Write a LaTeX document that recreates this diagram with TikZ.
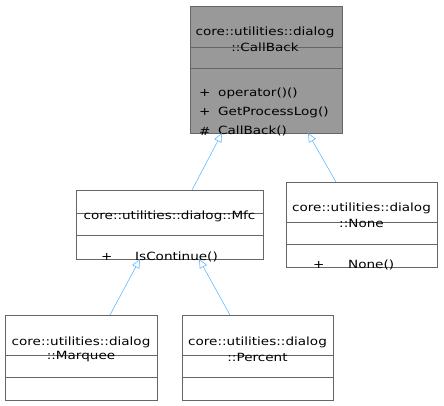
\documentclass[tikz,border=0pt]{standalone}
\usepackage{fontspec}
\setmainfont[FakeStretch=1.2]{DejaVu Sans}
\usetikzlibrary{arrows.meta}
\definecolor{edgeblue}{HTML}{63B8FF}
\definecolor{boxline}{HTML}{666666}
\definecolor{boxfill}{HTML}{999999}
\begin{document}
\begin{tikzpicture}[x=1pt,y=-1pt,
 cls/.style={draw=boxline, line width=0.8pt, anchor=north west, inner sep=0pt, outer sep=0pt},
 sep/.style={draw=boxline, line width=0.8pt},
 txt/.style={inner sep=0pt, font=\fontsize{11.3}{13}\selectfont, text=black},
 mem/.style={txt, anchor=west},
 inh/.style={draw=edgeblue, line width=0.6pt, -{Triangle[open, length=9pt, width=8pt]}}]
\useasboundingbox (0,0) rectangle (444,405);
% CallBack
\node[cls, fill=boxfill, minimum width=152pt, minimum height=127pt] (cb) at (190,6) {};
\draw[sep] (cb.west |- 0,47) -- (cb.east |- 0,47);
\draw[sep] (cb.west |- 0,68) -- (cb.east |- 0,68);
\node[txt] (cbt1) at (265,32) {core::utilities::dialog};
\node[txt] (cbt2) at (265,47) {::CallBack};
\node[mem] (cbp1) at (199,93) {+};
\node[mem] (cbm1) at (218,93) {operator()()};
\node[mem] (cbp2) at (199,112) {+};
\node[mem] (cbm2) at (218,112) {GetProcessLog()};
\node[mem] (cbp3) at (199,131) {\#};
\node[mem] (cbm3) at (218,131) {CallBack()};
% Mfc
\node[cls, fill=white, minimum width=187pt, minimum height=69pt] (mfc) at (76,190) {};
\draw[sep] (mfc.west |- 0,213) -- (mfc.east |- 0,213);
\draw[sep] (mfc.west |- 0,235) -- (mfc.east |- 0,235);
\node[txt] (mfct) at (169.5,216) {core::utilities::dialog::Mfc};
\node[mem] (mfcp) at (101,257) {+};
\node[mem] (mfcm) at (135,257) {IsContinue()};
% None
\node[cls, fill=white, minimum width=151pt, minimum height=85pt] (none) at (286,182) {};
\draw[sep] (none.west |- 0,222) -- (none.east |- 0,222);
\draw[sep] (none.west |- 0,244) -- (none.east |- 0,244);
\node[txt] (nonet1) at (361.5,208) {core::utilities::dialog};
\node[txt] (nonet2) at (361.5,223) {::None};
\node[mem] (nonep) at (313,265) {+};
\node[mem] (nonem) at (348,265) {None()};
% Marquee
\node[cls, fill=white, minimum width=152pt, minimum height=85pt] (mq) at (5,315) {};
\draw[sep] (mq.west |- 0,355) -- (mq.east |- 0,355);
\draw[sep] (mq.west |- 0,377) -- (mq.east |- 0,377);
\node[txt] (mqt1) at (81,342) {core::utilities::dialog};
\node[txt] (mqt2) at (81,357) {::Marquee};
% Percent
\node[cls, fill=white, minimum width=151pt, minimum height=85pt] (pc) at (182,315) {};
\draw[sep] (pc.west |- 0,355) -- (pc.east |- 0,355);
\draw[sep] (pc.west |- 0,377) -- (pc.east |- 0,377);
\node[txt] (pct1) at (257.5,342) {core::utilities::dialog};
\node[txt] (pct2) at (257.5,357) {::Percent};
% inheritance
\draw[inh] ([xshift=116pt]mfc.north west) -- ([xshift=32pt]cb.south west);
\draw[inh] ([xshift=50pt]none.north west) -- ([xshift=118pt]cb.south west);
\draw[inh] ([xshift=105pt]mq.north west) -- ([xshift=64pt]mfc.south west);
\draw[inh] ([xshift=48pt]pc.north west) -- ([xshift=123pt]mfc.south west);
\end{tikzpicture}
\end{document}
